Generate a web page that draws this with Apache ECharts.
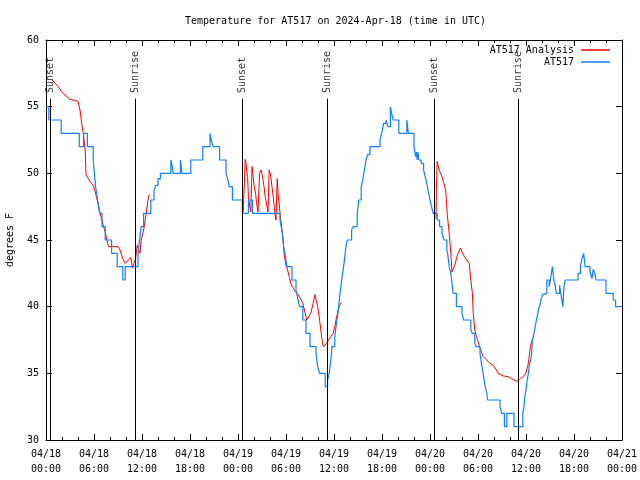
<!DOCTYPE html>
<html><head><meta charset="utf-8">
<script src="https://cdn.jsdelivr.net/npm/echarts@6/dist/echarts.min.js"></script>
<style>html,body{margin:0;padding:0;background:#fff}#chart{width:640px;height:480px}</style>
</head><body><div id="chart"></div>
<script>
const titleText = 'Temperature for AT517 on 2024-Apr-18 (time in UTC)';
const yAxisTitle = 'degrees F';
const seriesNames = ['AT517 Analysis', 'AT517'];
// x values are hours since 2024-04-18 00:00 UTC
const xTickLabels = ['04/18\n00:00','04/18\n06:00','04/18\n12:00','04/18\n18:00',
  '04/19\n00:00','04/19\n06:00','04/19\n12:00','04/19\n18:00',
  '04/20\n00:00','04/20\n06:00','04/20\n12:00','04/20\n18:00','04/21\n00:00'];
const sunEventHours = [0.5, 11.12, 24.54, 35.15, 48.54, 59.02];
const sunEventNames = ['Sunset','Sunrise','Sunset','Sunrise','Sunset','Sunrise'];

// observed station values (step: value holds from this hour to the next)
const observed = [
 [0,55],[0.35,54],[1.9,53],[4.16,52],[4.7,53],[5.17,52],[5.9,51],[6.05,50],[6.2,49],[6.45,48],[6.7,47],[7.0,46],[7.4,45],
 [8.2,44],[8.9,43],[9.6,42],[9.9,43],[11.5,44],[11.7,45],[11.9,46],[12.2,47],[13.1,48],[13.5,48.7],[13.7,49.1],[14.0,49.6],
 [14.3,50],[15.6,51],[15.75,50.6],[15.9,50],[16.8,51],[17.0,50],[18.1,51],[19.6,52],[20.5,53],[20.65,52.5],[20.9,52],
 [21.7,51],[22.5,50],[22.75,49.5],[22.9,49],[23.3,48],[24.54,47],[25.3,48],[25.8,47],[29.25,46.5],[29.4,46],[29.6,45.25],
 [29.7,44.5],[29.9,43.9],[30.0,43.5],[30.1,43],[30.75,42],[31.25,41.25],[31.5,40.5],[31.7,40],[32.1,39],[32.5,38],[33.0,37],
 [33.75,36.5],[33.96,35.5],[34.2,35],[34.9,34],[35.2,34.5],[35.4,35],[35.6,36],[35.75,37],[36.1,37.75],[36.3,38.75],
 [36.5,39.5],[36.75,41],[36.96,42],[37.1,42.6],[37.25,43.25],[37.5,44.5],[37.66,45],[38.2,45.75],[38.4,46],[38.9,47],
 [39.1,48],[39.4,49],[39.6,49.5],[39.8,50.25],[40.0,51],[40.2,51.4],[40.5,52],[41.75,52.5],[41.96,53],[42.2,53.75],
 [42.5,54],[42.75,53.5],[43.05,55],[43.2,54.5],[43.4,54],[44.1,53],[45.1,54],[45.3,53],[46.0,52],[46.2,51.25],[46.3,51.6],
 [46.4,51],[46.5,51.6],[46.6,51],[46.9,50.75],[47.2,50.25],[47.4,49.75],[47.6,49.25],[47.8,48.6],[48.0,48],[48.2,47.5],
 [48.4,47],[48.9,46.5],[49.2,46],[49.5,45.5],[49.75,45],[50.1,44.25],[50.2,44],[50.4,43],[50.6,42.5],[50.7,42],[50.9,41],
 [51.3,40],[52.0,39.5],[52.2,39],[53.1,38.25],[53.3,38],[53.6,37.25],[53.75,37],[54.25,36.5],[54.5,35.5],[54.7,34.75],
 [54.9,34],[55.1,33.5],[55.2,33],[56.75,32.5],[56.96,32],[57.3,31],[57.6,32],[58.5,31],[59.6,32],[59.75,32.5],[59.85,33.25],
 [60.0,33.75],[60.15,34.5],[60.3,35],[60.45,35.75],[60.6,36],[60.7,36.5],[60.8,37.5],[61.0,38],[61.15,38.5],[61.3,39],
 [61.45,39.4],[61.6,39.9],[61.75,40.1],[61.9,40.6],[62.1,40.9],[62.25,41],[62.6,42],[62.9,41.5],[63.05,42],[63.3,43],
 [63.4,42.5],[63.5,41.9],[63.65,41.6],[63.8,41],[64.2,41.6],[64.35,41],[64.6,40],[64.75,41.5],[64.9,42],[66.5,42.5],
 [66.8,43],[67.0,43.6],[67.2,44],[67.3,43.5],[67.4,43],[68.0,42.6],[68.25,42.1],[68.4,42.8],[68.6,42.5],[68.75,42],
 [70.0,41],[70.9,40.5],[71.2,40],[72,40]
];

const analysisSeg1 = [
 [0.75,57],[0.9,56.9],[1.55,56.5],[1.96,56.1],[2.6,55.75],[3.0,55.55],[4.0,55.4],[4.25,54.75],[4.46,53.75],[4.66,53],
 [4.9,51.75],[5.0,49.9],[5.16,49.75],[5.5,49.4],[5.9,49.1],[6.1,48.75],[6.4,48],[6.6,47.5],[6.75,47],[6.96,46.6],[7.16,46.1],
 [7.4,45.6],[7.8,44.5],[9.0,44.5],[9.25,44.25],[9.6,43.6],[9.9,43.25],[10.3,43.5],[10.6,43.7],[10.8,42.9],[10.9,42.75],
 [11.0,43.25],[11.2,43.6],[11.4,44.6],[11.6,44.75],[11.75,44.0],[11.9,45.0],[12.1,45.5],[12.25,45.9],[12.5,46.9],[12.8,48.2],[12.9,48.4]
];
const analysisSeg2 = [
 [24.66,47.1],[24.9,51.05],[25.0,50.75],[25.1,50.1],[25.2,49.75],[25.25,49],[25.3,48.25],[25.5,47.4],[25.6,47.1],[25.75,50.5],
 [25.85,50.5],[25.9,49.75],[26.0,49.1],[26.2,48.5],[26.3,47.9],[26.5,47.1],[26.6,47.1],[26.7,50],[26.9,50.25],[27.1,49.6],
 [27.25,49],[27.4,48.25],[27.6,47.6],[27.75,47.1],[27.9,50.25],[28.1,49.75],[28.25,49],[28.4,48.25],[28.6,47.1],[28.75,46.5],
 [28.9,49.6],[29.0,48.5],[29.2,47.4],[29.3,46.6],[29.4,46.25],[29.6,45.25],[29.8,43.75],[30.0,43.1],[30.2,42.75],[30.4,42.25],
 [30.6,41.75],[30.8,41.5],[31.2,41.1],[31.5,40.9],[31.9,40.5],[32.1,40.25],[32.4,39.5],[32.6,39],[32.8,38.9],[33.1,39.5],
 [33.4,40.25],[33.6,40.9],[33.75,41],[33.96,40],[34.2,39],[34.4,38],[34.5,37.5],[34.66,37],[34.9,37],[35.1,37.25],[35.3,37.5],
 [35.6,37.75],[35.9,38],[36.1,38.5],[36.25,39],[36.4,39.4],[36.5,39.75],[36.7,40.1],[36.75,40.25],[36.9,40.3]
];
const analysisSeg3 = [
 [48.75,46.6],[48.8,48.75],[48.9,50.9],[49.0,50.6],[49.25,50.1],[49.5,49.75],[49.66,49.4],[49.96,48.75],[50.16,46.9],[50.4,45.5],
 [50.6,44],[50.75,42.6],[50.9,42.6],[51.1,43.1],[51.3,43.6],[51.5,44],[51.8,44.4],[52.0,44.1],[52.3,43.75],[52.6,43.5],
 [52.9,43.25],[53.1,42],[53.3,41],[53.4,39.5],[53.6,38.25],[53.8,37.75],[54.0,37.4],[54.25,36.9],[54.5,36.5],[54.66,36.25],
 [55.1,36],[55.5,35.75],[55.9,35.6],[56.3,35.25],[56.5,35],[56.75,34.9],[57.16,34.8],[57.8,34.75],[58.2,34.6],[58.5,34.5],
 [58.8,34.4],[59.0,34.5],[59.3,34.6],[59.66,34.75],[59.96,35],[60.2,35.5],[60.35,36],[60.45,36.5],[60.55,37],[60.7,37.4],
 [60.8,37.55],[60.9,37.6]
];

const FONT = 'DejaVu Sans Mono';
const analysis = [].concat(analysisSeg1, [['-','-']], analysisSeg2, [['-','-']], analysisSeg3);
const sunLineTop = 55.6, sunLabelY = 55.95;

const chart = echarts.init(document.getElementById('chart'), null, {renderer: 'canvas'});
const axisCommon = {
  type: 'value',
  axisLine: {show: true, onZero: false, lineStyle: {color: '#000', width: 1}},
  axisTick: {show: true, inside: true, length: 6, lineStyle: {color: '#000'}},
  splitLine: {show: false}
};
chart.setOption({
  animation: false,
  backgroundColor: '#fff',
  textStyle: {fontFamily: FONT, color: '#000'},
  title: {text: titleText, left: 180, top: 11,
    textStyle: {fontFamily: FONT, fontSize: 10, fontWeight: 'normal', color: '#000'}},
  legend: {
    orient: 'vertical', right: 30, top: 44, align: 'right', itemGap: 0, padding: 0,
    itemWidth: 29, itemHeight: 1.5, icon: 'rect',
    textStyle: {fontFamily: FONT, fontSize: 10, color: '#000', lineHeight: 12, padding: [0, 2, 0, 0]},
    data: seriesNames
  },
  grid: {left: 46, right: 18, top: 40, bottom: 40, containLabel: false, outerBoundsMode: 'none'},
  xAxis: [
    Object.assign({}, axisCommon, {
      position: 'bottom', min: 0, max: 72, interval: 6,
      minorTick: {show: true, splitNumber: 3, length: 3, lineStyle: {color: '#000'}},
      axisLabel: {fontFamily: FONT, fontSize: 10, color: '#000', margin: 7, lineHeight: 15,
        formatter: v => xTickLabels[Math.round(v / 6)]}
    }),
    Object.assign({}, axisCommon, {
      position: 'top', min: 0, max: 72, interval: 6,
      minorTick: {show: true, splitNumber: 3, length: 3, lineStyle: {color: '#000'}},
      axisLabel: {show: false}
    })
  ],
  yAxis: [
    Object.assign({}, axisCommon, {
      position: 'left', min: 30, max: 60, interval: 5,
      name: yAxisTitle, nameLocation: 'middle', nameGap: 31, nameRotate: 90,
      nameTextStyle: {fontFamily: FONT, fontSize: 10, color: '#000'},
      axisLabel: {fontFamily: FONT, fontSize: 10, color: '#000', margin: 7}
    }),
    Object.assign({}, axisCommon, {
      position: 'right', min: 30, max: 60, interval: 5,
      axisLabel: {show: false}
    })
  ],
  series: [
    {
      name: seriesNames[0], type: 'line', data: analysis, xAxisIndex: 0, yAxisIndex: 0,
      showSymbol: false, connectNulls: false, color: '#ff0000',
      lineStyle: {width: 1, color: '#ff0000'}, z: 3
    },
    {
      name: seriesNames[1], type: 'line', data: observed, step: 'end', xAxisIndex: 0, yAxisIndex: 0,
      showSymbol: false, color: '#0f80ff',
      lineStyle: {width: 1.2, color: '#0f80ff'}, z: 4
    },
    {
      name: 'sun', type: 'line', data: [], xAxisIndex: 0, yAxisIndex: 0, z: 2,
      markLine: {
        silent: true, symbol: ['none', 'none'], animation: false,
        label: {show: false},
        lineStyle: {color: '#000', width: 1, type: 'solid'},
        data: sunEventHours.map(h => [{xAxis: h, yAxis: 30}, {xAxis: h, yAxis: sunLineTop}])
      }
    },
    {
      name: 'sunLabels', type: 'scatter', xAxisIndex: 0, yAxisIndex: 0, symbolSize: 0, silent: true, z: 5,
      data: sunEventHours.map((h, i) => ({value: [h, sunLabelY], name: sunEventNames[i]})),
      label: {show: true, formatter: '{b}', position: 'inside', rotate: 90, align: 'left',
        verticalAlign: 'middle', fontFamily: FONT, fontSize: 10, color: '#000', offset: [1, 0]}
    }
  ]
});
</script>
</body></html>
